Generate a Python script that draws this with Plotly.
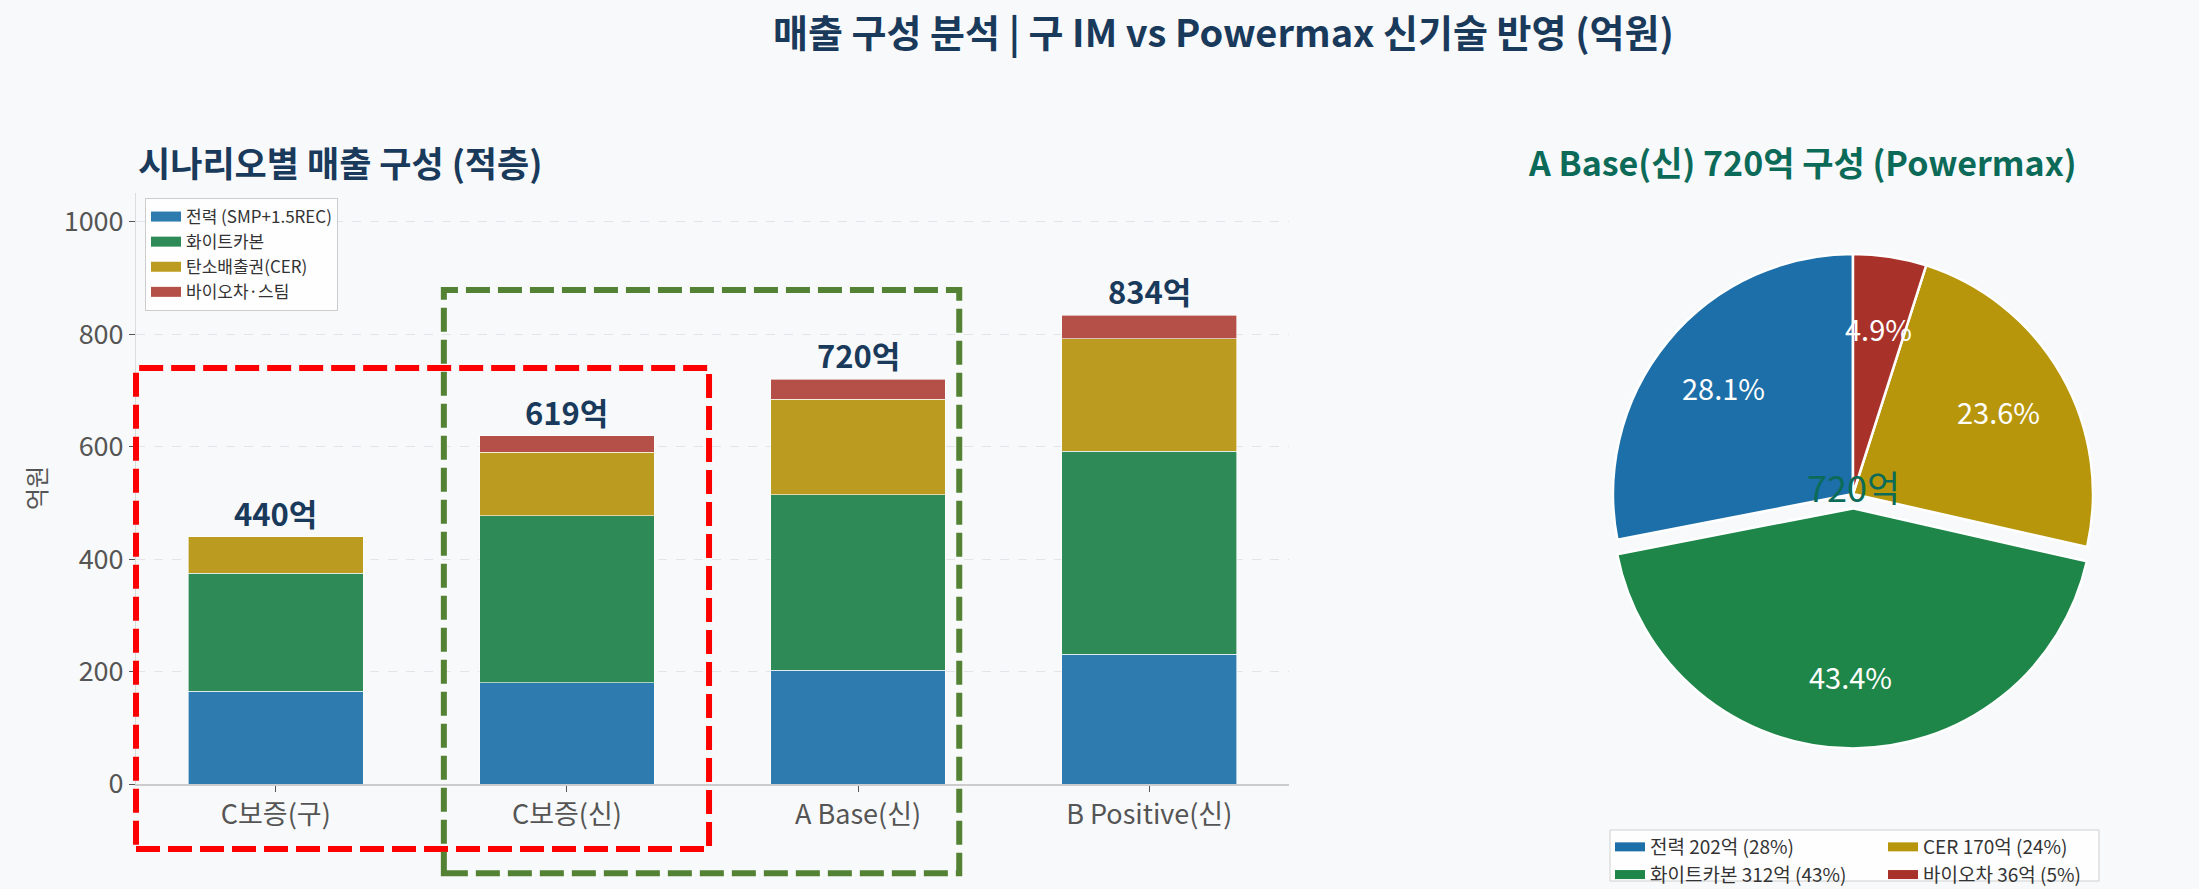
import math
import plotly.graph_objects as go

# ---- data ----
scenarios = ["C보증(구)", "C보증(신)", "A Base(신)", "B Positive(신)"]
power = [165, 180, 202, 231]          # 전력 (SMP+1.5REC)
white_carbon = [210, 297, 312, 361]   # 화이트카본
cer = [65, 113, 170, 200]             # 탄소배출권(CER)
biochar = [0, 29, 36, 42]             # 바이오차·스팀
series_names = ["전력 (SMP+1.5REC)", "화이트카본", "탄소배출권(CER)", "바이오차·스팀"]

pie_values = [202, 312.5, 170, 35.5]  # A Base(신) 720억
pie_legend = ["전력 202억 (28%)", "화이트카본 312억 (43%)", "CER 170억 (24%)", "바이오차 36억 (5%)"]
pie_total_label = "720억"

y_ticks = [0, 200, 400, 600, 800, 1000]

# ---- style ----
FONT = "Noto Sans CJK KR"
BG = "#f8f9fa"
NAVY = "#1a3a5c"
TEAL = "#0b6b58"
bar_colors = ["#2e7bb0", "#2e8b57", "#bb9c20", "#b55048"]
pie_colors = ["#1c6fa8", "#1f864a", "#b8960b", "#a8322a"]
W, H = 2199, 889

series = [power, white_carbon, cer, biochar]
totals = [sum(v) for v in zip(*series)]

fig = go.Figure()

for name, vals, col in zip(series_names, series, bar_colors):
    fig.add_trace(go.Bar(x=scenarios, y=vals, name=name, marker=dict(color=col, line=dict(color="white", width=0.6)),
                         width=0.6, showlegend=False))
    # legend handle (wide rectangle like matplotlib patches)
    fig.add_trace(go.Scatter(x=[None], y=[None], mode="lines", name=name,
                             line=dict(color=col, width=10), legend="legend"))

# total labels above bars
for sc, t in zip(scenarios, totals):
    fig.add_annotation(x=sc, y=t, text=f"{t}억", showarrow=False, yanchor="bottom", yshift=0,
                       font=dict(family=FONT, size=31, color=NAVY, weight="bold"))

# ---- pie ----
pie_cx, pie_cy, pie_r = 1853, 494, 240   # px
pull = [0, 0.06, 0, 0]
half = pie_r * (1 + max(pull))
tot = sum(pie_values)
fig.add_trace(go.Pie(values=pie_values, labels=pie_legend, sort=False, direction="counterclockwise",
                     rotation=-360 * pie_values[0] / tot,
                     marker=dict(colors=pie_colors, line=dict(color="white", width=2.5)),
                     pull=pull, textinfo="none", hoverinfo="label+percent", showlegend=False,
                     domain=dict(x=[(pie_cx - half) / W, (pie_cx + half) / W],
                                 y=[(H - pie_cy - half) / H, (H - pie_cy + half) / H])))

cum = 0
for v, p in zip(pie_values, pull):
    ang = math.radians(90 + 360 * (cum + v / 2) / tot)
    cum += v
    d = pie_r * (0.70 + p)
    px = pie_cx + d * math.cos(ang)
    py = pie_cy - d * math.sin(ang)
    fig.add_annotation(x=px / W, y=(H - py) / H, xref="paper", yref="paper", showarrow=False,
                       xanchor="center", yanchor="middle",
                       text=f"{v / tot * 100:.1f}%", font=dict(family=FONT, size=29, color="white"))

fig.add_annotation(x=pie_cx / W, y=(H - pie_cy + 8) / H, xref="paper", yref="paper", showarrow=False,
                   xanchor="center", yanchor="middle",
                   text=pie_total_label, font=dict(family=FONT, size=36, color=TEAL))

# pie legend in two columns
for i, (lab, col) in enumerate(zip(pie_legend, pie_colors)):
    fig.add_trace(go.Scatter(x=[None], y=[None], mode="lines", name=lab,
                             line=dict(color=col, width=9),
                             legend="legend2" if i < 2 else "legend3"))

# ---- highlight boxes (axes fractions) ----
fig.add_shape(type="rect", xref="x domain", yref="y domain", x0=0.0, x1=0.497, y0=-0.110, y1=0.704,
              line=dict(color="#ff0000", width=6, dash="24px,8px"), layer="above")
fig.add_shape(type="rect", xref="x domain", yref="y domain", x0=0.267, x1=0.714, y0=-0.151, y1=0.836,
              line=dict(color="#548235", width=6, dash="24px,8px"), layer="above")
# pie legend frame
fig.add_shape(type="rect", xref="paper", yref="paper", x0=1610 / W, x1=2099 / W, y0=8 / H, y1=59 / H,
              line=dict(color="#d0d0d0", width=1), fillcolor="rgba(255,255,255,0.8)", layer="below")

# ---- titles ----
fig.add_annotation(x=1223 / W, y=(H - 31) / H, xref="paper", yref="paper", showarrow=False,
                   xanchor="center", yanchor="middle",
                   text="매출 구성 분석 | 구 IM vs Powermax 신기술 반영 (억원)",
                   font=dict(family=FONT, size=38, color=NAVY, weight="bold"))
fig.add_annotation(x=136 / W, y=(H - 161) / H, xref="paper", yref="paper", showarrow=False,
                   xanchor="left", yanchor="middle",
                   text="시나리오별 매출 구성 (적층)", font=dict(family=FONT, size=35, color=NAVY, weight="bold"))
fig.add_annotation(x=1802 / W, y=(H - 161) / H, xref="paper", yref="paper", showarrow=False,
                   xanchor="center", yanchor="middle",
                   text="A Base(신) 720억 구성 (Powermax)", font=dict(family=FONT, size=34, color=TEAL, weight="bold"))
fig.add_annotation(x=35 / W, y=(H - 488) / H, xref="paper", yref="paper", showarrow=False, textangle=-90,
                   xanchor="center", yanchor="middle",
                   text="억원", font=dict(family=FONT, size=24, color="#555555"))

fig.update_layout(
    width=W, height=H, autosize=False,
    margin=dict(l=0, r=0, t=0, b=0, autoexpand=False),
    paper_bgcolor=BG, plot_bgcolor=BG,
    barmode="stack", bargap=0.4,
    font=dict(family=FONT, color="#333333"),
    xaxis=dict(domain=[136 / W, 1289 / W], range=[-0.48, 3.48], showline=True, linecolor="#cccccc",
               linewidth=2, ticks="outside", ticklen=6, tickcolor="#555555", showgrid=False, automargin=False,
               tickfont=dict(family=FONT, size=27, color="#555555"), zeroline=False),
    yaxis=dict(domain=[(H - 784) / H, (H - 193) / H], range=[0, 1051], tickvals=y_ticks,
               showline=True, linecolor="#dddddd", linewidth=1, ticks="outside", ticklen=6, automargin=False,
               tickcolor="#555555", showgrid=True, gridcolor="#e2e4e8", griddash="dash", gridwidth=1,
               tickfont=dict(family=FONT, size=27, color="#555555"), zeroline=False),
    legend=dict(x=145 / W, y=(H - 198) / H, xanchor="left", yanchor="top", bgcolor="rgba(255,255,255,0.8)",
                bordercolor="#cccccc", borderwidth=1, font=dict(family=FONT, size=17, color="#333333"),
                itemwidth=30, traceorder="normal", tracegroupgap=0),
    legend2=dict(x=1610 / W, y=(H - 828) / H, xanchor="left", yanchor="top", bgcolor="rgba(0,0,0,0)",
                 borderwidth=0, font=dict(family=FONT, size=19, color="#333333"), itemwidth=30),
    legend3=dict(x=1883 / W, y=(H - 828) / H, xanchor="left", yanchor="top", bgcolor="rgba(0,0,0,0)",
                 borderwidth=0, font=dict(family=FONT, size=19, color="#333333"), itemwidth=30),
)

# drop the browser's default 8px body margin so the figure sits at the page origin
fig.write_html("out.html", config={"displayModeBar": False},
               post_script="document.body.style.margin='0';")
